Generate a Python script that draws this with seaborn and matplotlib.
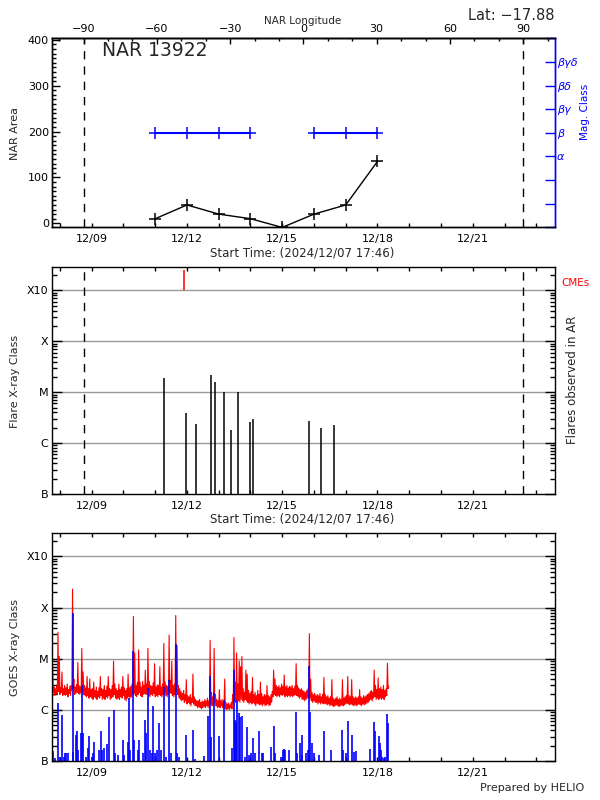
import numpy as np
import pandas as pd
import matplotlib
matplotlib.use("Agg")
import matplotlib.pyplot as plt
import matplotlib.dates as mdates
from matplotlib.ticker import MultipleLocator, FixedLocator, FixedFormatter, LogLocator, NullFormatter
import seaborn as sns

# ------------------------------------------------------------------ data
region_name = "NAR 13922"
latitude_text = "Lat: −17.88"
start_label = "Start Time: (2024/12/07 17:46)"
x_start = "2024-12-07 17:46"
x_end = "2024-12-23 14:10"
limb_dates = ["2024-12-08 17:50", "2024-12-22 14:10"]   # longitude -90 / +90

nar_dates = ["2024-12-11", "2024-12-12", "2024-12-13", "2024-12-14",
             "2024-12-15", "2024-12-16", "2024-12-17", "2024-12-18"]
nar_area = [10, 40, 20, 10, -9, 20, 40, 135]
mag_class = ["β", "β", "β", "β", None, "β", "β", "β"]
mag_levels = ["", "", "", "α", "β", "βγ", "βδ", "βγδ", ""]

lon_ticks = [-90, -60, -30, 0, 30, 60, 90]
date_ticks = ["2024-12-09", "2024-12-12", "2024-12-15", "2024-12-18", "2024-12-21"]

class_names = ["B", "C", "M", "X", "X10"]
class_flux = [1e-7, 1e-6, 1e-5, 1e-4, 1e-3]

flare_times = ["2024-12-11 06:25", "2024-12-11 23:00", "2024-12-12 06:35",
               "2024-12-12 17:55", "2024-12-12 20:55", "2024-12-13 03:45",
               "2024-12-13 09:00", "2024-12-13 14:20", "2024-12-13 23:20",
               "2024-12-14 01:40", "2024-12-15 19:55", "2024-12-16 05:00",
               "2024-12-16 14:45"]
flare_class = ["M1.9", "C3.9", "C2.4", "M2.2", "M1.6", "M1.0", "C1.8",
               "M1.0", "C2.6", "C3.0", "C2.7", "C2.0", "C2.3"]
cme_times = ["2024-12-11 21:30"]
cme_top = "X25"

# GOES 1-8 A flux, hourly low / high envelope (units of C = 1e-6 W/m2),
# hour 0 = 2024-12-07 18:00
goes_start = "2024-12-07 18:00"
red_lo_C = [
    2.0, 2.2, 1.9, 2.1, 2.0, 2.3, 2.0, 2.2, 1.9, 2.0,
    1.9, 2.0, 1.8, 2.1, 1.9, 2.4, 2.6, 2.0, 2.1, 2.2,
    2.1, 2.0, 2.2, 2.3, 2.0, 1.9, 1.8, 1.9, 1.7, 1.8,
    1.7, 1.6, 1.8, 1.7, 1.6, 1.8, 1.7, 1.9, 1.6, 1.7,
    1.6, 1.8, 1.7, 1.9, 1.6, 1.7, 1.8, 2.0, 1.7, 1.6,
    1.7, 1.6, 1.8, 1.7, 1.9, 1.6, 1.5, 1.7, 1.8, 1.7,
    1.8, 2.0, 2.1, 1.9, 1.8, 2.0, 2.2, 1.9, 1.8, 2.0,
    2.1, 2.0, 2.2, 1.9, 1.8, 2.0, 1.9, 2.1, 1.8, 1.9,
    1.8, 2.0, 1.9, 1.8, 2.0, 2.1, 1.9, 1.8, 2.0, 2.2,
    2.1, 1.9, 1.8, 2.0, 2.3, 2.0, 1.7, 1.6, 1.5, 1.6,
    1.4, 1.5, 1.3, 1.4, 1.3, 1.2, 1.4, 1.3, 1.2, 1.2,
    1.1, 1.15, 1.1, 1.05, 1.1, 1.15, 1.1, 1.2, 1.1, 1.2,
    1.3, 1.2, 1.25, 1.4, 1.2, 1.1, 1.15, 1.1, 1.2, 1.1,
    1.2, 1.05, 1.0, 1.05, 1.0, 1.1, 1.05, 1.3, 1.5, 1.4,
    1.6, 1.5, 1.4, 1.6, 1.5, 1.4, 1.6, 1.5, 1.4, 1.3,
    1.4, 1.3, 1.4, 1.3, 1.2, 1.35, 1.3, 1.25, 1.3, 1.2,
    1.3, 1.2, 1.25, 1.3, 1.2, 1.25, 1.4, 1.8, 2.0, 1.9,
    1.8, 1.9, 1.8, 2.0, 1.9, 2.0, 1.8, 1.9, 1.8, 1.9,
    1.8, 1.9, 1.8, 1.9, 2.0, 1.9, 1.8, 1.7, 1.8, 1.6,
    1.6, 1.5, 1.6, 1.7, 1.8, 1.7, 1.5, 1.4, 1.5, 1.4,
    1.4, 1.3, 1.4, 1.3, 1.4, 1.3, 1.35, 1.3, 1.25, 1.3,
    1.2, 1.25, 1.2, 1.15, 1.2, 1.25, 1.2, 1.15, 1.2, 1.25,
    1.2, 1.25, 1.3, 1.35, 1.3, 1.25, 1.3, 1.25, 1.2, 1.25,
    1.2, 1.25, 1.3, 1.25, 1.2, 1.3, 1.25, 1.3, 1.35, 1.4,
    1.5, 1.6, 1.5, 1.7, 1.8, 1.6, 1.7, 1.6, 1.7, 1.6,
    1.7, 1.6, 1.8, 1.9, 2.6]
red_hi_C = [
    7.0, 2.8, 2.6, 2.9, 33, 11, 2.7, 5.5, 2.6, 3.0,
    2.7, 3.2, 2.5, 2.9, 3.0, 230, 4.0, 2.8, 3.1, 8.5,
    3.0, 2.8, 16, 5.5, 3.0, 2.7, 4.5, 2.6, 4.0, 2.5,
    2.6, 3.5, 2.4, 2.8, 2.3, 2.7, 4.5, 2.6, 2.5, 3.0,
    2.4, 2.9, 4.5, 2.6, 2.5, 3.0, 9.0, 3.2, 2.6, 2.4,
    3.2, 2.5, 2.8, 4.5, 2.7, 2.4, 2.6, 5.0, 2.7, 2.9,
    3.2, 67, 13, 3.0, 3.4, 15, 3.5, 2.8, 3.6, 3.0,
    6.0, 3.2, 16, 3.6, 3.0, 2.9, 3.4, 8.0, 2.8, 3.1,
    3.0, 7.0, 2.8, 3.2, 20, 3.5, 3.0, 2.9, 29, 3.8,
    9.0, 3.0, 3.2, 70, 18, 3.0, 2.6, 2.3, 2.1, 2.4,
    2.0, 3.9, 1.9, 1.8, 2.0, 1.7, 5.0, 1.8, 1.6, 1.5,
    1.5, 1.6, 1.4, 1.5, 1.45, 1.6, 1.5, 1.7, 1.5, 23,
    2.2, 1.8, 16, 2.0, 1.6, 1.5, 2.5, 1.5, 1.6, 1.4,
    4.0, 1.4, 1.3, 1.35, 1.25, 1.4, 2.0, 26, 3.5, 13,
    3.2, 9.0, 7.0, 11, 2.6, 2.2, 6.0, 5.0, 2.4, 2.1,
    2.3, 4.3, 2.0, 2.2, 1.9, 2.4, 2.0, 3.5, 2.1, 1.8,
    2.0, 1.9, 3.0, 1.9, 1.8, 2.0, 2.3, 6.0, 4.0, 3.0,
    2.8, 3.0, 2.7, 3.2, 2.9, 4.8, 2.8, 3.0, 2.7, 2.9,
    2.8, 3.0, 2.6, 2.9, 8.0, 3.0, 2.7, 2.5, 2.6, 2.4,
    2.3, 2.2, 2.4, 2.6, 31, 4.0, 2.2, 2.0, 2.1, 1.9,
    2.0, 1.9, 2.1, 1.8, 2.0, 4.3, 2.0, 1.8, 1.9, 1.7,
    1.8, 3.9, 1.7, 1.6, 1.7, 1.8, 1.6, 1.7, 1.6, 3.9,
    1.7, 1.8, 1.9, 4.5, 1.9, 1.8, 3.9, 1.8, 1.7, 1.8,
    1.7, 1.8, 2.5, 1.8, 1.7, 1.9, 1.8, 1.9, 2.0, 2.1,
    2.3, 2.4, 2.2, 6.0, 3.0, 2.5, 4.2, 2.6, 2.8, 2.5,
    3.0, 2.4, 2.6, 8.2, 2.9]

# GOES 0.5-4 A peaks (above the B floor), hour since goes_start
blue_hours = [0.18, 1.04, 2.2, 4.5, 5.9, 7.4, 8.8, 9.7, 10.8, 12.0, 15.5, 16.0, 18.1,
              18.9, 19.8, 21.8, 22.4, 23.3, 25.3, 27.0, 28.2, 30.5, 31.0, 31.9, 35.7,
              36.8, 37.7, 39.1, 41.4, 42.9, 46.6, 47.8, 50.1, 53.5, 54.1, 57.3, 57.9,
              59.3, 61.1, 62.2, 65.1, 65.7, 68.6, 70.3, 71.4, 72.3, 74.3, 75.2, 76.6,
              78.1, 79.5, 81.0, 82.4, 84.7, 85.9, 88.2, 89.9, 93.9, 94.5, 96.2, 101.2,
              106.3, 108.4, 114.7, 117.6, 119.6, 120.5, 122.8, 126.5, 130.0, 136.4,
              137.2, 138.4, 139.2, 140.1, 141.5, 142.4, 143.6, 145.9, 147.3, 148.8,
              150.2, 151.6, 153.1, 156.8, 158.9, 159.7, 165.5, 167.5, 168.4, 173.3,
              174.7, 175.3, 176.2, 179.0, 184.2, 185.1, 187.7, 188.6, 189.1, 192.0,
              193.8, 194.3, 194.9, 196.4, 197.8, 202.1, 205.9, 210.8, 219.4, 220.3,
              222.3, 223.8, 226.7, 228.1, 229.5, 240.5, 243.4, 243.96, 246.8, 247.7,
              248.6, 249.7, 251.2, 252.0, 253.2, 254.1]
blue_class = ["B7.4", "B1.6", "B1.13", "C1.35", "B1.22", "B8.0", "B1.18", "B1.41", "B1.41",
              "B1.41", "M7.9", "B1.52", "B3.2", "B3.8", "B1.64", "B3.5", "C3.0", "B3.5",
              "B1.18", "B1.77", "B3.1", "B1.22", "B1.41", "B2.4", "B1.64", "B3.9", "B1.64",
              "B1.77", "B2.15", "B7.4", "C1.0", "B1.41", "B1.31", "B2.6", "B1.31", "B2.4",
              "C1.7", "B1.64", "M1.4", "B2.6", "B1.64", "B2.6", "B1.41", "B6.4", "B3.5",
              "C2.7", "B1.64", "B1.41", "C1.17", "B1.41", "B1.64", "B5.5", "B1.64", "C2.85",
              "B1.22", "C3.9", "B1.41", "M1.9", "B1.41", "B1.22", "B3.2", "B4.1", "B1.1",
              "B1.25", "B7.6", "C4.5", "B3.0", "C2.1", "B3.1", "C1.57", "B1.77", "C6.1",
              "B6.4", "B5.9", "C1.57", "B8.6", "B7.4", "B7.6", "B1.22", "B4.7", "B1.31",
              "B1.41", "B2.8", "B1.41", "B3.9", "B1.41", "B1.41", "B1.91", "B4.85", "B1.41",
              "B1.22", "B1.64", "B1.7", "B1.64", "B1.64", "B8.9", "B1.41", "B2.22", "B3.2",
              "B1.31", "B1.41", "B1.64", "C7.1", "B8.9", "B2.29", "B1.41", "B1.31", "B3.8",
              "B1.64", "B4.1", "B1.64", "B1.41", "B6.1", "B3.2", "B1.52", "B1.59", "B1.7",
              "B5.9", "B3.9", "B3.1", "B2.2", "B1.64", "B1.22", "B1.13", "B1.18", "B8.3",
              "B5.6"]


def class_to_flux(c):
    base = {"A": 1e-8, "B": 1e-7, "C": 1e-6, "M": 1e-5, "X": 1e-4}[c[0]]
    return base * float(c[1:])


# ------------------------------------------------------------------ style
sns.set_theme(style="white", rc={"axes.edgecolor": "black", "axes.linewidth": 1.0,
                                 "xtick.color": "black", "ytick.color": "black"})
plt.rcParams["font.family"] = ["DejaVu Sans"]
FS = 8

fig = plt.figure(figsize=(6, 8), dpi=100)
ax1 = fig.add_axes([0.0862, 0.7159, 0.8388, 0.2363])
ax2 = fig.add_axes([0.0862, 0.3825, 0.8388, 0.2841])
ax3 = fig.add_axes([0.0862, 0.04875, 0.8388, 0.2854])

t0 = pd.Timestamp(x_start)
t1 = pd.Timestamp(x_end)
limbs = [pd.Timestamp(d) for d in limb_dates]
dash = (0, (6, 5))


def date_axis(ax, top):
    ax.set_xlim(t0, t1)
    ax.xaxis.set_major_locator(FixedLocator(mdates.date2num(pd.to_datetime(date_ticks))))
    ax.xaxis.set_major_formatter(mdates.DateFormatter("%m/%d"))
    ax.xaxis.set_minor_locator(mdates.DayLocator())
    ax.tick_params(axis="x", which="both", direction="in", length=3.2, width=1,
                   bottom=True, top=top, labelsize=FS, pad=5)


# ---------------------------------------------------------------- panel 1
df_nar = pd.DataFrame({"date": pd.to_datetime(nar_dates), "area": nar_area})
sns.lineplot(data=df_nar, x="date", y="area", ax=ax1, color="black", lw=1,
             marker="+", markersize=8, markeredgewidth=1.1, markeredgecolor="black")
ax1.set_ylim(-8.7, 403.5)
ax1.yaxis.set_major_locator(MultipleLocator(100))
ax1.yaxis.set_minor_locator(MultipleLocator(10))
ax1.tick_params(axis="y", which="major", direction="in", length=5.5, width=1,
                labelsize=FS, pad=2, right=False)
ax1.tick_params(axis="y", which="minor", direction="in", length=3, width=1, right=False)
date_axis(ax1, top=False)
ax1.set_xlabel("")
ax1.set_ylabel("")
for d in limbs:
    ax1.axvline(d, color="black", lw=1, ls=dash)
ax1.text(0.099, 0.933, region_name, transform=ax1.transAxes, fontsize=13.5,
         ha="left", va="center")
ax1.spines["right"].set_color("blue")

ax1b = ax1.twinx()
mag_pos = [np.nan if m is None else mag_levels.index(m) for m in mag_class]
ax1b.plot(pd.to_datetime(nar_dates), mag_pos, color="blue", lw=1.5, marker="+",
          markersize=8, markeredgewidth=1.1)
ax1b.set_ylim(0, 8)
ax1b.yaxis.set_major_locator(FixedLocator(range(len(mag_levels))))
ax1b.yaxis.set_major_formatter(FixedFormatter(mag_levels))
ax1b.tick_params(axis="y", direction="in", length=7, width=1, colors="blue",
                 labelsize=FS, pad=1.5)
for lab in ax1b.get_yticklabels():
    lab.set_fontstyle("italic")
ax1b.spines["right"].set_color("blue")
ax1b.set_ylabel("")
ax1b.grid(False)

east = mdates.date2num(limbs[0])
west = mdates.date2num(limbs[1])


def t2lon(t):
    return -90 + (np.asarray(t) - east) / (west - east) * 180


def lon2t(l):
    return east + (np.asarray(l) + 90) / 180 * (west - east)


sec = ax1.secondary_xaxis("top", functions=(t2lon, lon2t))
sec.xaxis.set_major_locator(FixedLocator(lon_ticks))
sec.xaxis.set_minor_locator(MultipleLocator(10))
sec.tick_params(axis="x", which="major", direction="in", length=4, width=1,
                labelsize=FS, pad=3)
sec.tick_params(axis="x", which="minor", direction="in", length=2.5, width=1)
sec.spines["top"].set_linewidth(1.0)

# ---------------------------------------------------------------- panel 2
ylog_top = 10 ** -2.535


def class_axis(ax):
    ax.set_yscale("log")
    ax.set_ylim(class_flux[0], ylog_top)
    ax.yaxis.set_major_locator(FixedLocator(class_flux))
    ax.yaxis.set_major_formatter(FixedFormatter(class_names))
    ax.yaxis.set_minor_locator(LogLocator(base=10, subs=np.arange(2, 10)))
    ax.yaxis.set_minor_formatter(NullFormatter())
    ax.tick_params(axis="y", which="major", direction="in", length=7, width=1,
                   left=True, right=True, labelsize=FS, pad=2.5)
    ax.tick_params(axis="y", which="minor", direction="in", length=3.5, width=1,
                   left=True, right=True)
    for f in class_flux[1:]:
        ax.axhline(f, color="#999999", lw=1, zorder=0.5)


class_axis(ax2)
date_axis(ax2, top=True)
ft = pd.to_datetime(flare_times)
ax2.vlines(ft, class_flux[0], [class_to_flux(c) for c in flare_class],
           color="black", lw=1.1)
ax2.vlines(pd.to_datetime(cme_times), class_flux[4], class_to_flux(cme_top),
           color="red", lw=1.1)
for d in limbs:
    ax2.axvline(d, color="black", lw=1, ls=dash)
ax2.set_ylabel("")

# ---------------------------------------------------------------- panel 3
class_axis(ax3)
date_axis(ax3, top=True)
gs = pd.Timestamp(goes_start)
hours = np.arange(len(red_lo_C))
red_t = np.column_stack([hours, hours + 0.5]).ravel()
red_f = np.column_stack([red_lo_C, red_hi_C]).ravel() * class_flux[1]
df_red = pd.DataFrame({"time": gs + pd.to_timedelta(red_t, unit="h"), "flux": red_f})
sns.lineplot(data=df_red, x="time", y="flux", ax=ax3, color="red", lw=0.8,
             estimator=None, sort=False)
bt = gs + pd.to_timedelta(blue_hours, unit="h")
ax3.vlines(bt, 1e-8, [class_to_flux(c) for c in blue_class], color="blue", lw=1.2)
ax3.set_xlim(t0, t1)
ax3.set_xlabel("")
ax3.set_ylabel("")

# ---------------------------------------------------------------- texts
W, H = 600.0, 800.0


def ftext(x, y, s, **kw):
    fig.text(x / W, 1 - y / H, s, **kw)


ftext(555, 15.5, latitude_text, fontsize=10.5, ha="right", va="center")
ftext(303, 20.5, "NAR Longitude", fontsize=7.5, ha="center", va="center")
ftext(15.4, 133, "NAR Area", fontsize=FS, rotation=90, ha="center", va="center")
ftext(585, 112, "Mag. Class", fontsize=7.5, rotation=90, ha="center", va="center",
      color="blue")
ftext(302, 252.5, start_label, fontsize=8.5, ha="center", va="center")
ftext(15.4, 381, "Flare X-ray Class", fontsize=FS, rotation=90, ha="center", va="center")
ftext(572, 380, "Flares observed in AR", fontsize=8.5, rotation=90, ha="center",
      va="center")
ftext(561, 283.5, "CMEs", fontsize=7.5, ha="left", va="center", color="red")
ftext(302, 519.5, start_label, fontsize=8.5, ha="center", va="center")
ftext(15.4, 647, "GOES X-ray Class", fontsize=FS, rotation=90, ha="center", va="center")
ftext(584, 788, "Prepared by HELIO", fontsize=8, ha="right", va="center")

fig.savefig("out.png", dpi=100)
